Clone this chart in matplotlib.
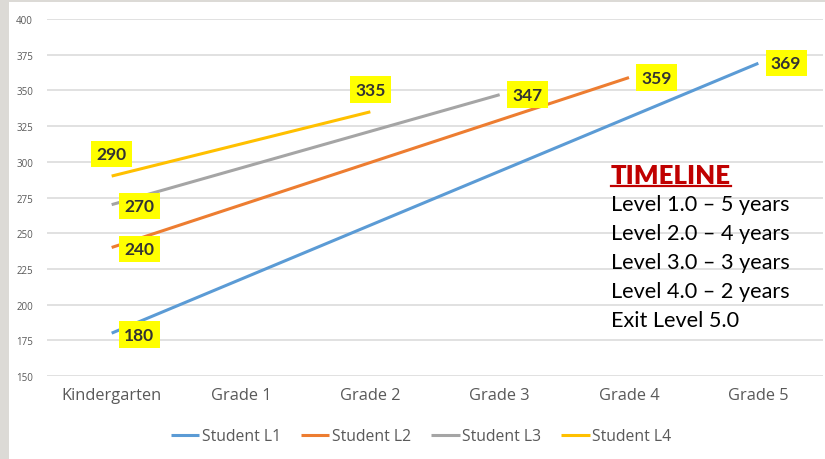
"""Reading scores by grade for four students, with a timeline note."""

import matplotlib.pyplot as plt
from matplotlib.patches import Rectangle
from matplotlib.lines import Line2D

# Data
grades = ["Kindergarten", "Grade 1", "Grade 2", "Grade 3", "Grade 4", "Grade 5"]
students = ["Student L1", "Student L2", "Student L3", "Student L4"]
start_scores = [180, 240, 270, 290]
end_scores = [369, 359, 347, 335]
end_grade = [5, 4, 3, 2]
timeline = ["Level 1.0 \u2013 5 years", "Level 2.0 \u2013 4 years",
            "Level 3.0 \u2013 3 years", "Level 4.0 \u2013 2 years",
            "Exit Level 5.0"]

colors = ["#5B9BD5", "#ED7D31", "#A5A5A5", "#FFC000"]

plt.rcParams["font.family"] = ["Open Sans", "DejaVu Sans"]

fig = plt.figure(figsize=(8.25, 4.6), dpi=100)
fig.patch.set_facecolor("#DCDAD6")
fig.patches.append(Rectangle((9 / 825, 0), 1, 1 - 3 / 460, transform=fig.transFigure,
                             facecolor="white", edgecolor="none", zorder=-5))

ax = fig.add_axes([47 / 825, 1 - 377 / 460, 776 / 825, 357 / 460])
ax.set_facecolor("none")

for i, name in enumerate(students):
    ax.plot([0, end_grade[i]], [start_scores[i], end_scores[i]],
            color=colors[i], lw=2.2, label=name, solid_capstyle="butt")

box = dict(boxstyle="square,pad=0.3", facecolor="#FFFF00", edgecolor="none")
lab = dict(fontsize=12.5, fontweight="bold", color="#333333", ha="center",
           va="center", bbox=box, family=["Lato", "DejaVu Sans"])

# start labels
for i in range(4):
    if i == 3:
        ax.annotate(str(start_scores[i]), (0, start_scores[i]), xytext=(0, 16),
                    textcoords="offset points", **lab)
        continue
    ax.annotate(str(start_scores[i]), (0, start_scores[i]), xytext=(20, -1),
                textcoords="offset points", **lab)
# end labels
for i in range(4):
    if end_grade[i] == 2:
        ax.annotate(str(end_scores[i]), (end_grade[i], end_scores[i]), xytext=(0, 16),
                    textcoords="offset points", **lab)
    else:
        ax.annotate(str(end_scores[i]), (end_grade[i], end_scores[i]), xytext=(20, 0),
                    textcoords="offset points", **lab)

ax.set_xlim(-0.5, 5.5)
ax.set_ylim(150, 400)
ax.set_yticks(range(150, 401, 25))
ax.set_xticks(range(len(grades)))
ax.set_xticklabels(grades, fontsize=11.8, color="#595959")
ax.tick_params(axis="y", labelsize=7, labelcolor="#595959", length=0, pad=10)
ax.tick_params(axis="x", length=0, pad=8)
ax.grid(axis="y", color="#D9D9D9", lw=1.1)
ax.set_axisbelow(True)
for s in ax.spines.values():
    s.set_visible(False)

ax.legend(loc="center", bbox_to_anchor=(0.482, 1 - (437 - 20) / 357), ncol=4,
          frameon=False, fontsize=11.3, labelcolor="#595959", handlelength=1.8,
          handletextpad=0.15, columnspacing=1.3, bbox_transform=ax.transAxes)

# timeline note
tfont = ["Lato", "DejaVu Sans"]
t = fig.text(611 / 825, 1 - 176 / 460, "TIMELINE", fontsize=18.5, fontweight="heavy",
             color="#C00000", va="center", ha="left", family=tfont)
for k, line in enumerate(timeline):
    fig.text(611 / 825, 1 - (205 + 29 * k) / 460, line, fontsize=15.6,
             color="black", va="center", ha="left", family=tfont)

fig.canvas.draw()
bb = t.get_window_extent().transformed(fig.transFigure.inverted())
fig.lines.append(Line2D([bb.x0, bb.x1], [bb.y0 + 0.003, bb.y0 + 0.003],
                        transform=fig.transFigure, color="#C00000", lw=1.6))

fig.savefig("out.png", dpi=100, facecolor=fig.get_facecolor())
